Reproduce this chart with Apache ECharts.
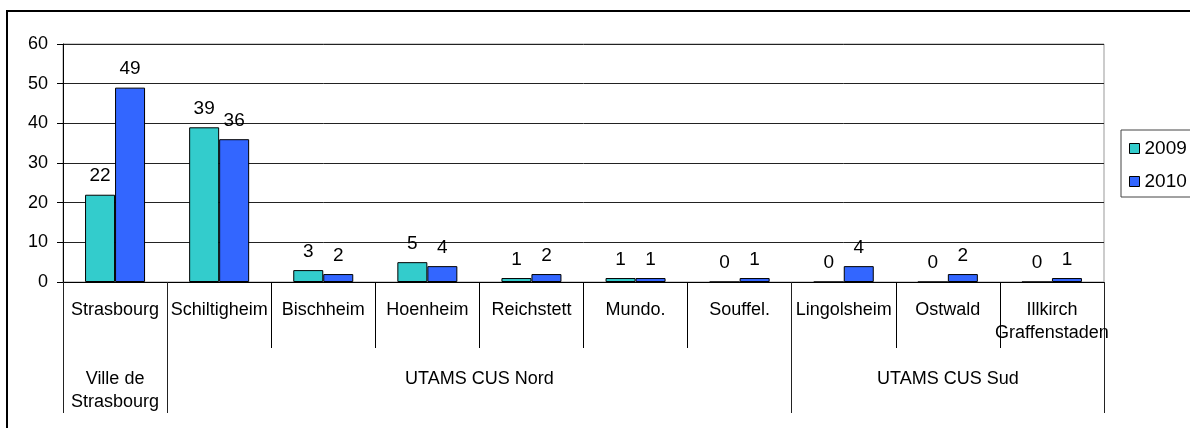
<!DOCTYPE html>
<html>
<head>
<meta charset="utf-8">
<script src="https://cdn.jsdelivr.net/npm/echarts@6/dist/echarts.min.js"></script>
<style>
  html, body { margin: 0; padding: 0; background: #fff; }
  #main { position: absolute; left: 0; top: 0; width: 1190px; height: 428px; }
  #frame { position: absolute; left: 6px; top: 10px; width: 1300px; height: 500px;
           border-left: 2px solid #000; border-top: 2px solid #000; pointer-events: none; }
</style>
</head>
<body>
<div id="main"></div>
<div id="frame"></div>
<script>
// données
var villes = ['Strasbourg', 'Schiltigheim', 'Bischheim', 'Hoenheim', 'Reichstett',
    'Mundo.', 'Souffel.', 'Lingolsheim', 'Ostwald', 'Illkirch\nGraffenstaden'];
var annees = ['2009', '2010'];
var val2009 = [22, 39, 3, 5, 1, 1, 0, 0, 0, 0];
var val2010 = [49, 36, 2, 4, 2, 1, 1, 4, 2, 1];
var groupes = ['Ville de\nStrasbourg', 'UTAMS CUS Nord', 'UTAMS CUS Sud'];
var tailleGroupes = [1, 6, 3];   // nombre de villes par groupe
var yTicks = [0, 10, 20, 30, 40, 50, 60];

// axe des groupes : demi-pas, etiquette au centre de chaque groupe
var nbDemi = villes.length * 2 + 1;
var groupeAxe = [];
for (var i = 0; i < nbDemi; i++) groupeAxe.push('');
var bornes = [0];
var debut = 0;
for (var g = 0; g < groupes.length; g++) {
    groupeAxe[debut * 2 + tailleGroupes[g]] = groupes[g];
    debut += tailleGroupes[g];
    bornes.push(debut * 2);
}
// separateurs entre villes (demi-pas pairs)
var bornesVilles = [];
for (var k = 0; k <= villes.length; k++) bornesVilles.push(k * 2);

var police = '"Liberation Sans", Arial, sans-serif';
var chart = echarts.init(document.getElementById('main'));

var option = {
    animation: false,
    color: ['#33CCCC', '#3366FF'],
    textStyle: { fontFamily: police, color: '#000' },
    grid: { left: 63, right: 86, top: 44, bottom: 146, containLabel: false,
            show: true, borderColor: '#999', borderWidth: 1 },
    legend: {
        data: annees,
        orient: 'vertical',
        left: 1121, top: 130,
        padding: [9, 8, 6, 8],
        itemGap: 14,
        itemWidth: 10, itemHeight: 10,
        icon: 'rect',
        borderColor: '#444', borderWidth: 1,
        itemStyle: { borderColor: '#000', borderWidth: 1 },
        textStyle: { fontFamily: police, fontSize: 19, color: '#000' }
    },
    xAxis: [
        {
            type: 'category',
            data: villes,
            position: 'bottom',
            offset: 0,
            axisLine: { show: true, lineStyle: { color: '#000', width: 1 } },
            axisTick: { show: false },
            axisLabel: { interval: 0, fontSize: 18, margin: 17, lineHeight: 23,
                         color: '#000', fontFamily: police }
        },
        {
            // separateurs courts entre villes
            type: 'category',
            data: groupeAxe,
            boundaryGap: false,
            position: 'bottom',
            offset: 0,
            axisLine: { show: false },
            axisTick: { show: true, length: 66,
                        interval: function (idx) { return bornesVilles.indexOf(idx) >= 0; },
                        lineStyle: { color: '#000' } },
            axisLabel: { show: false }
        },
        {
            // separateurs longs entre groupes + noms de groupes
            type: 'category',
            data: groupeAxe,
            boundaryGap: false,
            position: 'bottom',
            offset: 0,
            axisLine: { show: false },
            axisTick: { show: true, length: 131,
                        interval: function (idx) { return bornes.indexOf(idx) >= 0; },
                        lineStyle: { color: '#222' } },
            axisLabel: { fontSize: 18, margin: 86, lineHeight: 23, color: '#000',
                         fontFamily: police,
                         interval: function (idx, val) { return val !== ''; } }
        }
    ],
    yAxis: {
        type: 'value',
        min: yTicks[0], max: yTicks[yTicks.length - 1], interval: 10,
        axisLine: { show: true, lineStyle: { color: '#000' } },
        axisTick: { show: true, length: 6, lineStyle: { color: '#000' } },
        axisLabel: { fontSize: 18, margin: 15, color: '#000', fontFamily: police },
        splitLine: { lineStyle: { color: '#222', width: 1 } }
    },
    series: [
        {
            name: annees[0],
            type: 'bar',
            xAxisIndex: 0,
            barWidth: 30,
            barGap: '0%',
            itemStyle: { borderColor: '#000', borderWidth: 1 },
            label: { show: true, position: 'top', distance: 9, fontSize: 19,
                     color: '#000', fontFamily: police },
            data: val2009
        },
        {
            name: annees[1],
            type: 'bar',
            xAxisIndex: 0,
            barWidth: 30,
            barGap: '0%',
            itemStyle: { borderColor: '#000', borderWidth: 1 },
            label: { show: true, position: 'top', distance: 9, fontSize: 19,
                     color: '#000', fontFamily: police },
            data: val2010
        }
    ]
};

chart.setOption(option);
</script>
</body>
</html>
